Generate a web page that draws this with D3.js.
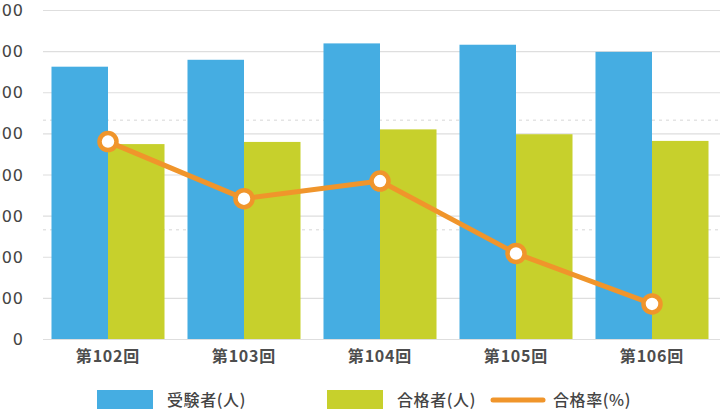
<!DOCTYPE html>
<html>
<head>
<meta charset="utf-8">
<script src="https://cdn.jsdelivr.net/npm/d3@7"></script>
<style>
  html, body { margin: 0; padding: 0; background: #fff; }
  svg { display: block; font-family: "Noto Sans CJK JP", "Noto Sans", sans-serif; }
</style>
</head>
<body>
<div id="chart"></div>
<script>
// data
var categories = ["第102回", "第103回", "第104回", "第105回", "第106回"];
var examinees = [13243, 13579, 14376, 14311, 13964];   // 受験者(人)
var passed = [9479, 9584, 10194, 9958, 9634];          // 合格者(人)
var passRate = [69.0, 66.4, 67.2, 63.9, 61.6];         // 合格率(%)
var leftTicks = [0, 2000, 4000, 6000, 8000, 10000, 12000, 14000, 16000];
var rightTicks = [60, 65, 70, 75];
var seriesNames = ["受験者(人)", "合格者(人)", "合格率(%)"];

var width = 720, height = 411;
var colBlue = "#45ade2", colGreen = "#c7d02c", colOrange = "#f0952b";

var svg = d3.select("#chart").append("svg")
  .attr("width", width)
  .attr("height", height);

var x = d3.scaleBand()
  .domain(categories)
  .range([40, 720])
  .paddingInner(0.169)
  .paddingOuter(0.0845);

var xs = d3.scaleBand()
  .domain([0, 1])
  .range([0, x.bandwidth()]);

var y = d3.scaleLinear().domain([0, 16000]).range([339, 10]);
var yr = d3.scaleLinear().domain([60, 75]).range([339, 10]);

// grid lines (left axis)
svg.append("g").selectAll("line")
  .data(leftTicks)
  .enter().append("line")
  .attr("x1", 43).attr("x2", 720)
  .attr("y1", function(d) { return y(d) + 0.5; })
  .attr("y2", function(d) { return y(d) + 0.5; })
  .style("stroke", "#dedede")
  .style("stroke-width", 1.2);

// dashed grid (right axis)
svg.append("g").selectAll("line")
  .data(rightTicks.slice(1, 3))
  .enter().append("line")
  .attr("x1", 43).attr("x2", 720)
  .attr("y1", function(d) { return yr(d) + 0.5; })
  .attr("y2", function(d) { return yr(d) + 0.5; })
  .style("stroke", "#d6d6d6")
  .style("stroke-dasharray", "3,4");

// left tick labels (the chart is cropped, only the last digits show)
svg.append("g").selectAll("text")
  .data(leftTicks)
  .enter().append("text")
  .attr("x", 24)
  .attr("y", function(d) { return y(d) + 6; })
  .attr("text-anchor", "end")
  .style("font-family", "'DejaVu Sans', sans-serif")
  .style("font-size", "16px")
  .style("letter-spacing", "1px")
  .style("fill", "#444")
  .text(function(d) { return d; });

// bars
var groups = svg.append("g").selectAll("g")
  .data(categories)
  .enter().append("g")
  .attr("transform", function(d) { return "translate(" + x(d) + ",0)"; });

groups.append("rect")
  .attr("x", xs(0))
  .attr("width", xs.bandwidth())
  .attr("y", function(d, i) { return y(examinees[i]); })
  .attr("height", function(d, i) { return y(0) - y(examinees[i]); })
  .style("fill", colBlue);

groups.append("rect")
  .attr("x", xs(1))
  .attr("width", xs.bandwidth())
  .attr("y", function(d, i) { return y(passed[i]); })
  .attr("height", function(d, i) { return y(0) - y(passed[i]); })
  .style("fill", colGreen);

// category labels
svg.append("g").selectAll("text")
  .data(categories)
  .enter().append("text")
  .attr("x", function(d) { return x(d) + x.bandwidth() / 2; })
  .attr("y", 362)
  .attr("text-anchor", "middle")
  .style("font-size", "16px")
  .style("font-weight", "bold")
  .style("letter-spacing", "0.8px")
  .style("fill", "#4d4d4d")
  .text(function(d) { return d; });

// rate line
var line = d3.line()
  .x(function(d, i) { return x(categories[i]) + x.bandwidth() / 2; })
  .y(function(d) { return yr(d); });

svg.append("path")
  .datum(passRate)
  .attr("d", line)
  .style("fill", "none")
  .style("stroke", colOrange)
  .style("stroke-width", 5)
  .style("stroke-linejoin", "round");

svg.append("g").selectAll("circle")
  .data(passRate)
  .enter().append("circle")
  .attr("cx", function(d, i) { return x(categories[i]) + x.bandwidth() / 2; })
  .attr("cy", function(d) { return yr(d); })
  .attr("r", 8.5)
  .style("fill", "#fff")
  .style("stroke", colOrange)
  .style("stroke-width", 4.5);

// legend
var legend = svg.append("g").attr("transform", "translate(0,400)");
var legendX = [97, 327, 490];

legend.append("rect")
  .attr("x", legendX[0]).attr("y", -10)
  .attr("width", 56).attr("height", 19)
  .style("fill", colBlue);
legend.append("rect")
  .attr("x", legendX[1]).attr("y", -10)
  .attr("width", 56).attr("height", 19)
  .style("fill", colGreen);
legend.append("line")
  .attr("x1", legendX[2] + 3).attr("x2", legendX[2] + 53)
  .attr("y1", 0).attr("y2", 0)
  .style("stroke", colOrange)
  .style("stroke-width", 5)
  .style("stroke-linecap", "round");

legend.selectAll("text")
  .data(seriesNames)
  .enter().append("text")
  .attr("x", function(d, i) { return legendX[i] + (i == 2 ? 63 : 70); })
  .attr("y", 6)
  .style("font-size", "16px")
  .style("font-weight", "500")
  .style("letter-spacing", "0.6px")
  .style("fill", "#444")
  .text(function(d) { return d; });
</script>
</body>
</html>
